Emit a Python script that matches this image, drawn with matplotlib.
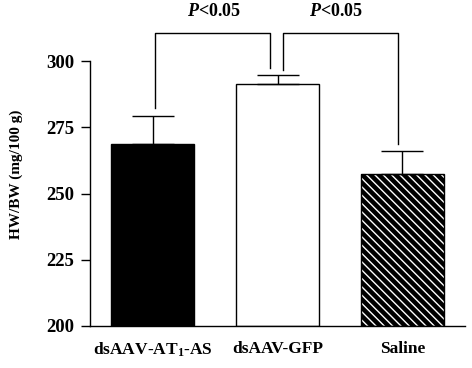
import matplotlib
matplotlib.use("Agg")
import matplotlib.pyplot as plt

plt.rcParams['font.family'] = ['Liberation Serif', 'DejaVu Serif']
plt.rcParams['font.weight'] = 'bold'
plt.rcParams['mathtext.fontset'] = 'custom'
plt.rcParams['mathtext.rm'] = 'Liberation Serif:bold'
plt.rcParams['mathtext.bf'] = 'Liberation Serif:bold'
plt.rcParams['mathtext.it'] = 'Liberation Serif:bold:italic'
plt.rcParams['hatch.linewidth'] = 1.0

categories = ["dsAAV-AT$_1$-AS", "dsAAV-GFP", "Saline"]
means = [268.7, 291.3, 257.3]
errors = [10.5, 3.4, 8.7]
yticks = [200, 225, 250, 275, 300]
p_label = "$P$<0.05"

fig = plt.figure(figsize=(4.72, 3.68), dpi=100)
ax = fig.add_axes([90/472, 1-326/368, (465-90)/472, (326-61)/368])

x = list(range(len(categories)))
w = 0.665
ax.bar(x[0], means[0]-200, bottom=200, width=w, color='black', edgecolor='black', linewidth=1.0, zorder=2)
ax.bar(x[1], means[1]-200, bottom=200, width=w, color='white', edgecolor='black', linewidth=1.0, zorder=2)
ax.bar(x[2], means[2]-200, bottom=200, width=w, color='black', edgecolor='white', hatch='\\\\\\\\', linewidth=0, zorder=2)
ax.bar(x[2], means[2]-200, bottom=200, width=w, fill=False, edgecolor='black', linewidth=1.0, zorder=3)

ax.errorbar(x, means, yerr=[[0]*3, errors], fmt='none', ecolor='black',
            elinewidth=1.0, capsize=14.8, capthick=1.0, zorder=4)

ax.set_xlim(-0.5, 2.5)
ax.set_ylim(200, 300)
ax.set_yticks(yticks)
ax.set_yticklabels([str(t) for t in yticks], fontsize=13.5, fontweight='bold')
ax.set_xticks(x)
ax.set_xticklabels(categories, fontsize=12.5, fontweight='bold')
ax.tick_params(axis='x', length=0, pad=10.5)
ax.tick_params(axis='y', length=6.5, width=1.0, pad=5)
ax.spines['top'].set_visible(False)
ax.spines['right'].set_visible(False)
for s in ('left', 'bottom'):
    ax.spines[s].set_linewidth(1.0)

ax.set_ylabel("HW/BW (mg/100 g)", fontsize=11, fontweight='bold')
ax.yaxis.set_label_coords((23 - 90) / 375, (326 - 174) / 265)

# significance brackets
top = 310.6
ax.plot([0.016, 0.016, 0.938, 0.938], [282.3, top, top, 297.4], color='black', lw=1.0, clip_on=False)
ax.plot([1.042, 1.042, 1.964, 1.964], [296.6, top, top, 268.7], color='black', lw=1.0, clip_on=False)
ax.text(0.49, 318.5, p_label, ha='center', va='center', fontsize=13, fontweight='bold')
ax.text(1.47, 318.5, p_label, ha='center', va='center', fontsize=13, fontweight='bold')

fig.savefig("out.png", dpi=100)
